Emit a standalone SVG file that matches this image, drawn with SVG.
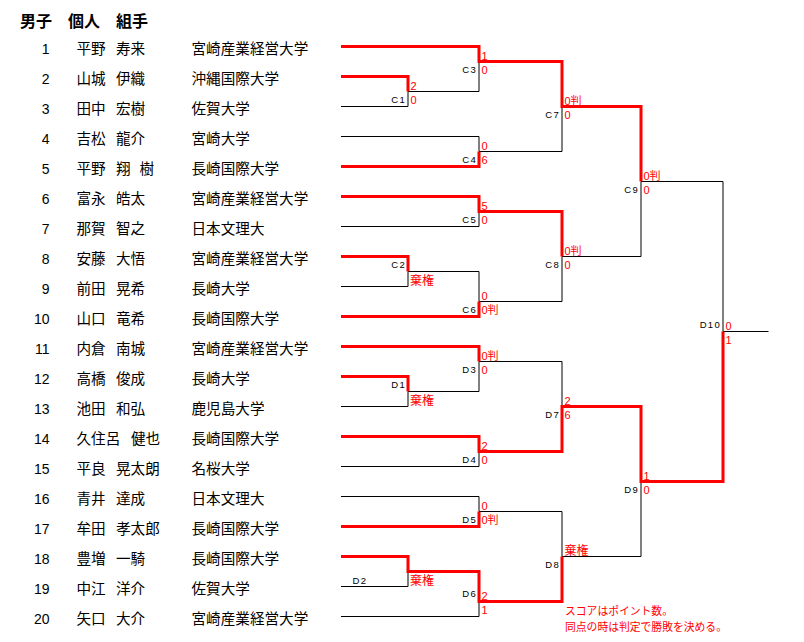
<svg xmlns="http://www.w3.org/2000/svg" width="804" height="642" viewBox="0 0 804 642">
<style>
.t{font-family:"Noto Sans CJK JP","Liberation Sans",sans-serif;font-size:14.6px;fill:#000}
.n{font-family:"Liberation Sans","Noto Sans CJK JP",sans-serif;font-size:14px;fill:#000;text-anchor:end}
.title{font-family:"Noto Sans CJK JP",sans-serif;font-size:16px;font-weight:bold;fill:#000}
.bk{fill:none;stroke:#000;stroke-width:1}
.rd{fill:none;stroke:#f00;stroke-width:3;stroke-linejoin:miter;stroke-linecap:butt}
.lb{font-family:"Liberation Sans",sans-serif;font-size:9.5px;letter-spacing:1.3px;text-anchor:end;fill:#000}
.lbs{font-family:"Liberation Sans",sans-serif;font-size:9.5px;letter-spacing:1.3px;fill:#000}
.sc{font-family:"Liberation Sans","Noto Sans CJK JP",sans-serif;font-size:11px;fill:#f00}
.kk{font-family:"Noto Sans CJK JP",sans-serif;font-size:12px;fill:#f00}
.note{font-family:"Noto Sans CJK JP",sans-serif;font-size:10.8px;fill:#f00}
</style>
<rect width="804" height="642" fill="#fff"/>
<text class="title" x="20" y="26.5">男子　個人　組手</text>

<g id="players">
<g id="p1"><text class="n" x="49.5" y="53.5">1</text><text class="t" x="76.5" y="53.5">平野</text><text class="t" x="116" y="53.5">寿来</text><text class="t" x="191.5" y="53.5">宮崎産業経営大学</text></g>
<g id="p2"><text class="n" x="49.5" y="83.5">2</text><text class="t" x="76.5" y="83.5">山城</text><text class="t" x="116" y="83.5">伊織</text><text class="t" x="191.5" y="83.5">沖縄国際大学</text></g>
<g id="p3"><text class="n" x="49.5" y="113.5">3</text><text class="t" x="76.5" y="113.5">田中</text><text class="t" x="116" y="113.5">宏樹</text><text class="t" x="191.5" y="113.5">佐賀大学</text></g>
<g id="p4"><text class="n" x="49.5" y="143.5">4</text><text class="t" x="76.5" y="143.5">吉松</text><text class="t" x="116" y="143.5">龍介</text><text class="t" x="191.5" y="143.5">宮崎大学</text></g>
<g id="p5"><text class="n" x="49.5" y="173.5">5</text><text class="t" x="76.5" y="173.5">平野</text><text class="t" x="116" y="173.5">翔</text><text class="t" x="139.5" y="173.5">樹</text><text class="t" x="191.5" y="173.5">長崎国際大学</text></g>
<g id="p6"><text class="n" x="49.5" y="203.5">6</text><text class="t" x="76.5" y="203.5">富永</text><text class="t" x="116" y="203.5">皓太</text><text class="t" x="191.5" y="203.5">宮崎産業経営大学</text></g>
<g id="p7"><text class="n" x="49.5" y="233.5">7</text><text class="t" x="76.5" y="233.5">那賀</text><text class="t" x="116" y="233.5">智之</text><text class="t" x="191.5" y="233.5">日本文理大</text></g>
<g id="p8"><text class="n" x="49.5" y="263.5">8</text><text class="t" x="76.5" y="263.5">安藤</text><text class="t" x="116" y="263.5">大悟</text><text class="t" x="191.5" y="263.5">宮崎産業経営大学</text></g>
<g id="p9"><text class="n" x="49.5" y="293.5">9</text><text class="t" x="76.5" y="293.5">前田</text><text class="t" x="116" y="293.5">晃希</text><text class="t" x="191.5" y="293.5">長崎大学</text></g>
<g id="p10"><text class="n" x="49.5" y="323.5">10</text><text class="t" x="76.5" y="323.5">山口</text><text class="t" x="116" y="323.5">竜希</text><text class="t" x="191.5" y="323.5">長崎国際大学</text></g>
<g id="p11"><text class="n" x="49.5" y="353.5">11</text><text class="t" x="76.5" y="353.5">内倉</text><text class="t" x="116" y="353.5">南城</text><text class="t" x="191.5" y="353.5">宮崎産業経営大学</text></g>
<g id="p12"><text class="n" x="49.5" y="383.5">12</text><text class="t" x="76.5" y="383.5">高橋</text><text class="t" x="116" y="383.5">俊成</text><text class="t" x="191.5" y="383.5">長崎大学</text></g>
<g id="p13"><text class="n" x="49.5" y="413.5">13</text><text class="t" x="76.5" y="413.5">池田</text><text class="t" x="116" y="413.5">和弘</text><text class="t" x="191.5" y="413.5">鹿児島大学</text></g>
<g id="p14"><text class="n" x="49.5" y="443.5">14</text><text class="t" x="76.5" y="443.5">久住呂</text><text class="t" x="131" y="443.5">健也</text><text class="t" x="191.5" y="443.5">長崎国際大学</text></g>
<g id="p15"><text class="n" x="49.5" y="473.5">15</text><text class="t" x="76.5" y="473.5">平良</text><text class="t" x="116" y="473.5">晃太朗</text><text class="t" x="191.5" y="473.5">名桜大学</text></g>
<g id="p16"><text class="n" x="49.5" y="503.5">16</text><text class="t" x="76.5" y="503.5">青井</text><text class="t" x="116" y="503.5">達成</text><text class="t" x="191.5" y="503.5">日本文理大</text></g>
<g id="p17"><text class="n" x="49.5" y="533.5">17</text><text class="t" x="76.5" y="533.5">牟田</text><text class="t" x="116" y="533.5">孝太郎</text><text class="t" x="191.5" y="533.5">長崎国際大学</text></g>
<g id="p18"><text class="n" x="49.5" y="563.5">18</text><text class="t" x="76.5" y="563.5">豊増</text><text class="t" x="116" y="563.5">一騎</text><text class="t" x="191.5" y="563.5">長崎国際大学</text></g>
<g id="p19"><text class="n" x="49.5" y="593.5">19</text><text class="t" x="76.5" y="593.5">中江</text><text class="t" x="116" y="593.5">洋介</text><text class="t" x="191.5" y="593.5">佐賀大学</text></g>
<g id="p20"><text class="n" x="49.5" y="623.5">20</text><text class="t" x="76.5" y="623.5">矢口</text><text class="t" x="116" y="623.5">大介</text><text class="t" x="191.5" y="623.5">宮崎産業経営大学</text></g>
</g>

<g id="connectors">
<polyline class="bk" points="341,106.5 408,106.5 408,91.5 479,91.5 479,61.5"/>
<polyline class="bk" points="341,136.5 479,136.5 479,151.5 562,151.5 562,106.5"/>
<polyline class="bk" points="341,226.5 479,226.5 479,211.5"/>
<polyline class="bk" points="341,286.5 408,286.5 408,271.5 479,271.5 479,301.5 562,301.5 562,256.5 641,256.5 641,181.5 723,181.5 723,331.5 768.5,331.5"/>
<polyline class="bk" points="341,406.5 408,406.5 408,391.5 479,391.5 479,361.5 562,361.5 562,406.5"/>
<polyline class="bk" points="341,466.5 479,466.5 479,451.5"/>
<polyline class="bk" points="341,496.5 479,496.5 479,511.5 562,511.5 562,556.5 641,556.5 641,481.5"/>
<polyline class="bk" points="341,586.5 408,586.5 408,571.5"/>
<polyline class="bk" points="341,616.5 479,616.5 479,601.5"/>
<polyline class="rd" points="341,46.5 479,46.5 479,61.5 562,61.5 562,106.5 641,106.5 641,181.5"/>
<polyline class="rd" points="341,76.5 408,76.5 408,91.5"/>
<polyline class="rd" points="341,166.5 479,166.5 479,151.5"/>
<polyline class="rd" points="341,196.5 479,196.5 479,211.5 562,211.5 562,256.5"/>
<polyline class="rd" points="341,256.5 408,256.5 408,271.5"/>
<polyline class="rd" points="341,316.5 479,316.5 479,301.5"/>
<polyline class="rd" points="341,346.5 479,346.5 479,361.5"/>
<polyline class="rd" points="341,376.5 408,376.5 408,391.5"/>
<polyline class="rd" points="341,436.5 479,436.5 479,451.5 562,451.5 562,406.5 641,406.5 641,481.5 723,481.5 723,331.5"/>
<polyline class="rd" points="341,526.5 479,526.5 479,511.5"/>
<polyline class="rd" points="341,556.5 408,556.5 408,571.5 479,571.5 479,601.5 562,601.5 562,556.5"/>
</g>

<g id="C1"><text class="lb" x="406" y="103">C1</text><text class="sc" x="410.5" y="89.5">2</text><text class="sc" x="410.5" y="104.3">0</text></g>
<g id="C3"><text class="lb" x="477" y="73">C3</text><text class="sc" x="481.5" y="59.5">1</text><text class="sc" x="481.5" y="74.3">0</text></g>
<g id="C4"><text class="lb" x="477" y="163">C4</text><text class="sc" x="481.5" y="149.5">0</text><text class="sc" x="481.5" y="164.3">6</text></g>
<g id="C7"><text class="lb" x="560" y="118">C7</text><text class="sc" x="564.5" y="104.5">0判</text><text class="sc" x="564.5" y="119.3">0</text></g>
<g id="C5"><text class="lb" x="477" y="223">C5</text><text class="sc" x="481.5" y="209.5">5</text><text class="sc" x="481.5" y="224.3">0</text></g>
<g id="C2"><text class="lb" x="406" y="267.5">C2</text><text class="kk" x="410" y="285">棄権</text></g>
<g id="C6"><text class="lb" x="477" y="313">C6</text><text class="sc" x="481.5" y="299.5">0</text><text class="sc" x="481.5" y="314.3">0判</text></g>
<g id="C8"><text class="lb" x="560" y="268">C8</text><text class="sc" x="564.5" y="254.5">0判</text><text class="sc" x="564.5" y="269.3">0</text></g>
<g id="C9"><text class="lb" x="639" y="193">C9</text><text class="sc" x="643.5" y="179.5">0判</text><text class="sc" x="643.5" y="194.3">0</text></g>
<g id="D10"><text class="lb" x="721" y="328.3">D10</text><text class="sc" x="725.5" y="329.5">0</text><text class="sc" x="725.5" y="344.3">1</text></g>
<g id="D3"><text class="lb" x="477" y="373">D3</text><text class="sc" x="481.5" y="359.5">0判</text><text class="sc" x="481.5" y="374.3">0</text></g>
<g id="D1"><text class="lb" x="406" y="388">D1</text><text class="kk" x="410" y="405">棄権</text></g>
<g id="D4"><text class="lb" x="477" y="463">D4</text><text class="sc" x="481.5" y="449.5">2</text><text class="sc" x="481.5" y="464.3">0</text></g>
<g id="D7"><text class="lb" x="560" y="418">D7</text><text class="sc" x="564.5" y="404.5">2</text><text class="sc" x="564.5" y="419.3">6</text></g>
<g id="D5"><text class="lb" x="477" y="523">D5</text><text class="sc" x="481.5" y="509.5">0</text><text class="sc" x="481.5" y="524.3">0判</text></g>
<g id="D2"><text class="lbs" x="352.5" y="584">D2</text><text class="kk" x="410" y="585">棄権</text></g>
<g id="D6"><text class="lb" x="477" y="597">D6</text><text class="sc" x="481.5" y="599.5">2</text><text class="sc" x="481.5" y="614.3">1</text></g>
<g id="D8"><text class="lb" x="560" y="567.5">D8</text><text class="kk" x="564.5" y="555">棄権</text></g>
<g id="D9"><text class="lb" x="639" y="493">D9</text><text class="sc" x="643.5" y="479.5">1</text><text class="sc" x="643.5" y="494.3">0</text></g>

<g id="note">
<text class="note" x="565" y="614.8">スコアはポイント数。</text>
<text class="note" x="565" y="630.6">同点の時は判定で勝敗を決める。</text>
</g>
</svg>
